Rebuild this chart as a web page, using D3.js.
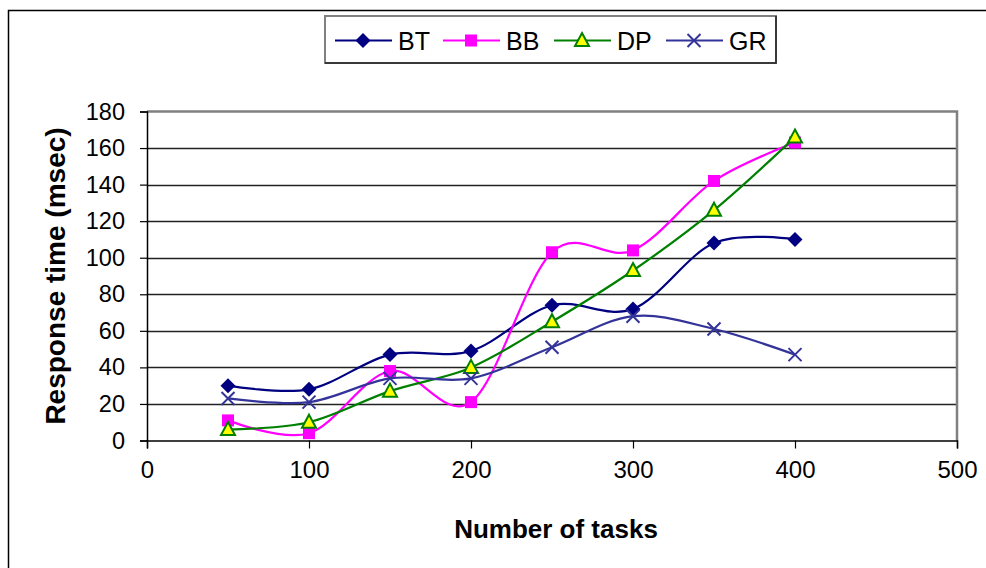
<!DOCTYPE html>
<html>
<head>
<meta charset="utf-8">
<script src="https://cdn.jsdelivr.net/npm/d3@7"></script>
<style>
  html, body { margin: 0; padding: 0; background: #fff; }
  svg { display: block; }
  text { font-family: "Liberation Sans", Arial, sans-serif; }
</style>
</head>
<body>
<svg id="chart" width="986" height="568"></svg>
<script>
// Number of tasks on the x axis
const tasks = [50, 100, 150, 200, 250, 300, 350, 400];

// Response time (msec) for each scheduling method
const seriesNames = ["BT", "BB", "DP", "GR"];
const btValues = [30, 28, 47, 49, 74, 72, 108, 110];
const bbValues = [11, 4, 38, 21, 103, 104, 142, 163];
const dpValues = [6, 10, 27, 40, 65, 93, 126, 166];
const grValues = [23, 21, 34, 34, 51, 68, 61, 47];

const xTicks = [0, 100, 200, 300, 400, 500];
const yTicks = [0, 20, 40, 60, 80, 100, 120, 140, 160, 180];

const series = [
  { name: "BT", values: btValues, color: "#000080", marker: "diamond" },
  { name: "BB", values: bbValues, color: "#FF00FF", marker: "square" },
  { name: "DP", values: dpValues, color: "#008000", marker: "triangle" },
  { name: "GR", values: grValues, color: "#333399", marker: "cross" }
];

const svg = d3.select("#chart");

// Outer chart frame
svg.append("rect")
  .attr("x", 8.5).attr("y", 10.5)
  .attr("width", 1000).attr("height", 600)
  .attr("fill", "#fff").attr("stroke", "#000").attr("stroke-width", 1.5);

const x = d3.scaleLinear().domain([0, 500]).range([147, 957]);
const y = d3.scaleLinear().domain([0, 180]).range([440.5, 111.5]);

// Horizontal gridlines
svg.append("g")
  .selectAll("line")
  .data(yTicks.filter(v => v > 0 && v < 180))
  .join("line")
  .attr("x1", x(0)).attr("x2", x(500))
  .attr("y1", d => Math.round(y(d)) + 0.5).attr("y2", d => Math.round(y(d)) + 0.5)
  .attr("stroke", "#222").attr("stroke-width", 1.3);

// Plot-area top and right border
svg.append("path")
  .attr("d", `M${x(0)},${y(180)}H${x(500)}V${y(0)}`)
  .attr("fill", "none").attr("stroke", "#808080").attr("stroke-width", 2.5);

// Y axis
const yAxis = d3.axisLeft(y).tickValues(yTicks).tickSize(7).tickPadding(15);
const gy = svg.append("g").attr("transform", `translate(${x(0)},0)`).call(yAxis);
gy.select(".domain").attr("stroke", "#000").attr("stroke-width", 1.5);
gy.selectAll(".tick line").attr("stroke", "#000").attr("stroke-width", 1.2);
gy.selectAll(".tick text")
  .attr("font-size", 23.5).attr("fill", "#000")
  .style("font-family", "'Liberation Sans', Arial, sans-serif");

// X axis
const xAxis = d3.axisBottom(x).tickValues(xTicks).tickSize(8).tickPadding(12);
const gx = svg.append("g").attr("transform", `translate(0,${y(0)})`).call(xAxis);
gx.select(".domain").attr("stroke", "#000").attr("stroke-width", 1.5);
gx.selectAll(".tick line").attr("stroke", "#000").attr("stroke-width", 1.2);
gx.selectAll(".tick text")
  .attr("font-size", 24).attr("fill", "#000")
  .style("font-family", "'Liberation Sans', Arial, sans-serif");

// Axis titles
svg.append("text")
  .attr("x", 556).attr("y", 538)
  .attr("text-anchor", "middle")
  .attr("font-size", 26).attr("font-weight", "bold")
  .text("Number of tasks");

svg.append("text")
  .attr("transform", "translate(65,276) rotate(-90)")
  .attr("text-anchor", "middle")
  .attr("font-size", 28).attr("font-weight", "bold")
  .text("Response time (msec)");

// Marker drawing
function drawMarker(g, type, color) {
  if (type === "diamond") {
    g.append("path").attr("d", "M0,-7.5L7.5,0L0,7.5L-7.5,0Z").attr("fill", color);
  } else if (type === "square") {
    g.append("rect").attr("x", -6).attr("y", -6).attr("width", 12).attr("height", 12).attr("fill", color);
  } else if (type === "triangle") {
    g.append("path").attr("d", "M0,-7.5L7,5.5L-7,5.5Z")
      .attr("fill", "#FFFF00").attr("stroke", color).attr("stroke-width", 2).attr("stroke-linejoin", "miter");
  } else if (type === "cross") {
    g.append("path").attr("d", "M-6.5,-6.5L6.5,6.5M-6.5,6.5L6.5,-6.5")
      .attr("stroke", color).attr("stroke-width", 2).attr("fill", "none");
  }
}

const line = d3.line()
  .x((d, i) => x(tasks[i]))
  .y(d => y(d))
  .curve(d3.curveCatmullRom.alpha(0));

const plot = svg.append("g");
series.forEach(s => {
  plot.append("path")
    .datum(s.values)
    .attr("d", line)
    .attr("fill", "none")
    .attr("stroke", s.color)
    .attr("stroke-width", 2.2);
});
series.forEach(s => {
  s.values.forEach((v, i) => {
    const g = plot.append("g").attr("transform", `translate(${x(tasks[i])},${y(v)})`);
    drawMarker(g, s.marker, s.color);
  });
});

// Legend
const legend = svg.append("g");
legend.append("rect")
  .attr("x", 325).attr("y", 16).attr("width", 451).attr("height", 47)
  .attr("fill", "#fff").attr("stroke", "#808080").attr("stroke-width", 2);
legend.append("path")
  .attr("d", "M776,16V63H325")
  .attr("fill", "none").attr("stroke", "#222").attr("stroke-width", 1.5);

const legendX = [335, 443, 554, 666];
series.forEach((s, i) => {
  const lx = legendX[i];
  const g = legend.append("g");
  g.append("line")
    .attr("x1", lx).attr("x2", lx + 57)
    .attr("y1", 40.5).attr("y2", 40.5)
    .attr("stroke", s.color).attr("stroke-width", 2.2);
  const m = g.append("g").attr("transform", `translate(${lx + 28},40.5)`);
  drawMarker(m, s.marker, s.color);
  g.append("text")
    .attr("x", lx + 63).attr("y", 49.5)
    .attr("font-size", 25).attr("fill", "#000")
    .text(seriesNames[i]);
});
</script>
</body>
</html>
